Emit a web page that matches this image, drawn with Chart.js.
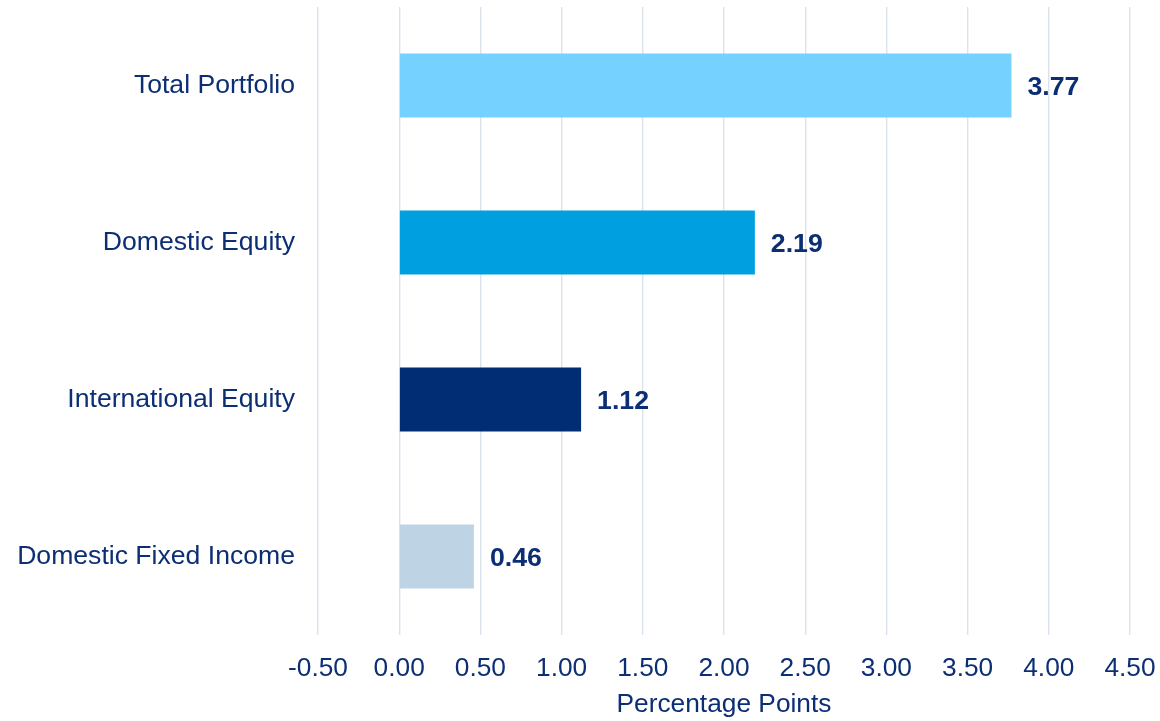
<!DOCTYPE html>
<html>
<head>
<meta charset="utf-8">
<script src="https://cdn.jsdelivr.net/npm/chart.js@4"></script>
<style>
html,body{margin:0;padding:0;background:#fff;}
#wrap{width:1160px;height:721px;position:relative;}
</style>
</head>
<body>
<div id="wrap"><canvas id="c"></canvas></div>
<script>
const categories = ["Total Portfolio", "Domestic Equity", "International Equity", "Domestic Fixed Income"];
const values = [3.77, 2.19, 1.12, 0.46];
const barColors = ["#75D1FF", "#009FE0", "#002D73", "#BED4E5"];
const axisTitle = "Percentage Points";

const TEXT = "#0C2E74";
const FONT = "'Liberation Sans', Arial, Helvetica, sans-serif";

const valueLabels = {
  id: 'valueLabels',
  afterDatasetsDraw(chart) {
    const ctx = chart.ctx;
    const meta = chart.getDatasetMeta(0);
    ctx.save();
    ctx.fillStyle = TEXT;
    ctx.font = "bold 26.7px " + FONT;
    ctx.textAlign = 'left';
    ctx.textBaseline = 'middle';
    meta.data.forEach((bar, i) => {
      ctx.fillText(values[i].toFixed(2), bar.x + 16, bar.y + 2);
    });
    ctx.restore();
  }
};

new Chart(document.getElementById('c'), {
  type: 'bar',
  data: {
    labels: categories,
    datasets: [{
      data: values,
      backgroundColor: barColors,
      borderWidth: 0,
      categoryPercentage: 1,
      barPercentage: 0.408
    }]
  },
  options: {
    indexAxis: 'y',
    responsive: true,
    maintainAspectRatio: false,
    devicePixelRatio: 1,
    animation: false,
    layout: { padding: { top: 7, right: 30, bottom: 0, left: 0 } },
    plugins: { legend: { display: false }, tooltip: { enabled: false } },
    scales: {
      x: {
        min: -0.5, max: 4.5,
        border: { display: false },
        grid: { color: "#DAE2EB", lineWidth: 1.4, drawTicks: false },
        ticks: {
          stepSize: 0.5,
          color: TEXT,
          font: { family: FONT, size: 26.3 },
          padding: 18,
          maxRotation: 0,
          callback: v => Number(v).toFixed(2)
        },
        title: {
          display: true,
          text: axisTitle,
          color: TEXT,
          font: { family: FONT, size: 26.3 },
          padding: 0
        },
        afterFit(scale) { scale.height = 86; scale.paddingLeft = 0; scale.paddingRight = 0; }
      },
      y: {
        border: { display: false },
        grid: { display: false, drawTicks: false },
        ticks: {
          color: TEXT,
          font: { family: FONT, size: 26.6 },
          padding: 23
        },
        afterFit(scale) { scale.width = 318; scale.paddingTop = 0; scale.paddingBottom = 0; }
      }
    }
  },
  plugins: [valueLabels]
});
</script>
</body>
</html>
